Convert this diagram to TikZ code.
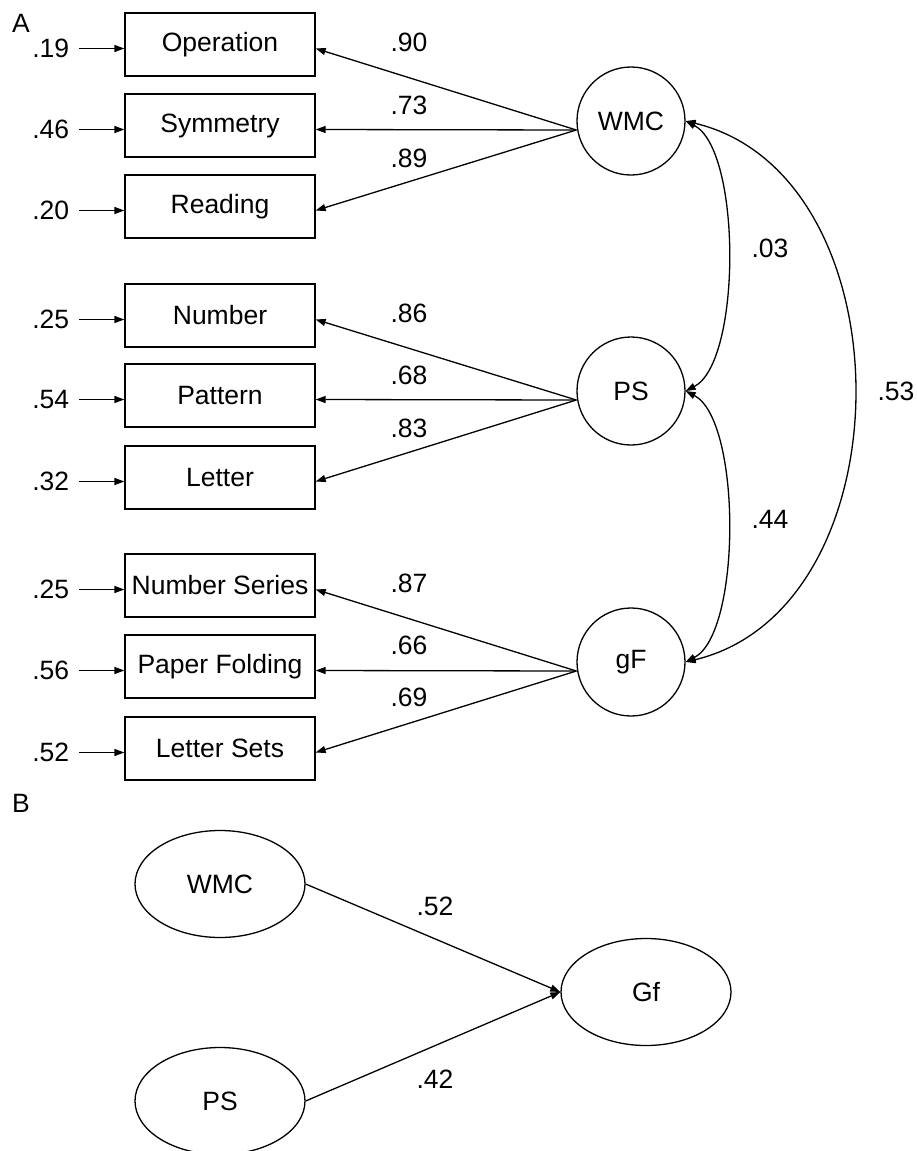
\documentclass[tikz,border=0pt]{standalone}
\usepackage{fontspec}
\setmainfont{Liberation Sans}
\usetikzlibrary{arrows.meta,shapes.geometric}
\begin{document}
\begin{tikzpicture}[x=1pt,y=-1pt,
  every node/.style={font=\fontsize{26.5}{30}\selectfont},
  obs/.style={draw, line width=1.3pt, minimum width=190pt, minimum height=63pt, inner sep=0pt},
  lat/.style={draw, circle, line width=1.3pt, minimum size=108pt, inner sep=0pt},
  latb/.style={draw, ellipse, line width=1.3pt, minimum width=170pt, minimum height=107pt, inner sep=0pt},
  arr/.style={line width=1.3pt, -{Triangle[length=10pt,width=7pt]}},
  cov/.style={line width=1.3pt, {Triangle[length=10pt,width=7pt]}-{Triangle[length=10pt,width=7pt]}},
  lbl/.style={inner sep=0pt}]
\useasboundingbox (0,0) rectangle (917,1151);

% panel labels
\node[lbl] (A) at (21,23) {A};
\node[lbl] (B) at (21,803) {B};

% observed variables
\node[obs] (op)  at (220,44.5)  {Operation};
\node[obs] (sym) at (220,125.5) {Symmetry};
\node[obs] (rea) at (220,206.5) {Reading};
\node[obs] (num) at (220,315.5) {Number};
\node[obs] (pat) at (220,395.5) {Pattern};
\node[obs] (let) at (220,477.5) {Letter};
\node[obs] (ns)  at (220,585.5) {Number Series};
\node[obs] (pf)  at (220,666.5) {Paper Folding};
\node[obs] (ls)  at (220,748.5) {Letter Sets};

% error terms
\foreach \b/\v in {op/.19, sym/.46, rea/.20, num/.25, pat/.54, let/.32, ns/.25, pf/.56, ls/.52}{
  \node[lbl, anchor=east] (e\b) at ([xshift=-55pt,yshift=-4pt]\b.west) {\v};
  \coordinate (s\b) at ([xshift=-45pt,yshift=-4pt]\b.west);
  \draw[arr] (s\b) -- ([yshift=-4pt]\b.west);
}

% latent variables
\node[lat] (wmc) at (631,121) {WMC};
\node[lat] (ps)  at (631,391) {PS};
\node[lat] (gf)  at (631,662) {gF};

% loadings
\draw[arr] ([yshift=-9pt]wmc.west) -- ([yshift=-4pt]op.east);
\draw[arr] ([yshift=-9pt]wmc.west) -- ([yshift=-4pt]sym.east);
\draw[arr] ([yshift=-9pt]wmc.west) -- ([yshift=-4pt]rea.east);
\draw[arr] ([yshift=-9pt]ps.west) -- ([yshift=-4pt]num.east);
\draw[arr] ([yshift=-9pt]ps.west) -- ([yshift=-4pt]pat.east);
\draw[arr] ([yshift=-9pt]ps.west) -- ([yshift=-4pt]let.east);
\draw[arr] ([yshift=-9pt]gf.west) -- ([yshift=-4pt]ns.east);
\draw[arr] ([yshift=-9pt]gf.west) -- ([yshift=-4pt]pf.east);
\draw[arr] ([yshift=-9pt]gf.west) -- ([yshift=-4pt]ls.east);

\node[lbl] (l1) at (409,42)  {.90};
\node[lbl] (l2) at (409,105) {.73};
\node[lbl] (l3) at (409,158) {.89};
\node[lbl] (l4) at (409,313) {.86};
\node[lbl] (l5) at (409,375) {.68};
\node[lbl] (l6) at (409,428) {.83};
\node[lbl] (l7) at (409,583) {.87};
\node[lbl] (l8) at (409,645) {.66};
\node[lbl] (l9) at (409,697) {.69};

% covariances
\draw[cov] (wmc.east) .. controls +(56,29) and +(56,-29) .. (ps.east);
\draw[cov] (ps.east) .. controls +(56,29) and +(56,-29) .. (gf.east);
\draw[cov] (wmc.east) .. controls +(224,54) and +(224,-54) .. (gf.east);
\node[lbl] (c1) at (770,248) {.03};
\node[lbl] (c2) at (770,519) {.44};
\node[lbl] (c3) at (896,391) {.53};

% panel B
\node[latb] (bwmc) at (220,884)  {WMC};
\node[latb] (bps)  at (220,1101) {PS};
\node[latb] (bgf)  at (646,992)  {Gf};
\draw[arr] (bwmc.east) -- (bgf.west);
\draw[arr] (bps.east) -- (bgf.west);
\node[lbl] (b1) at (435,906)  {.52};
\node[lbl] (b2) at (435,1079) {.42};
\end{tikzpicture}
\end{document}
